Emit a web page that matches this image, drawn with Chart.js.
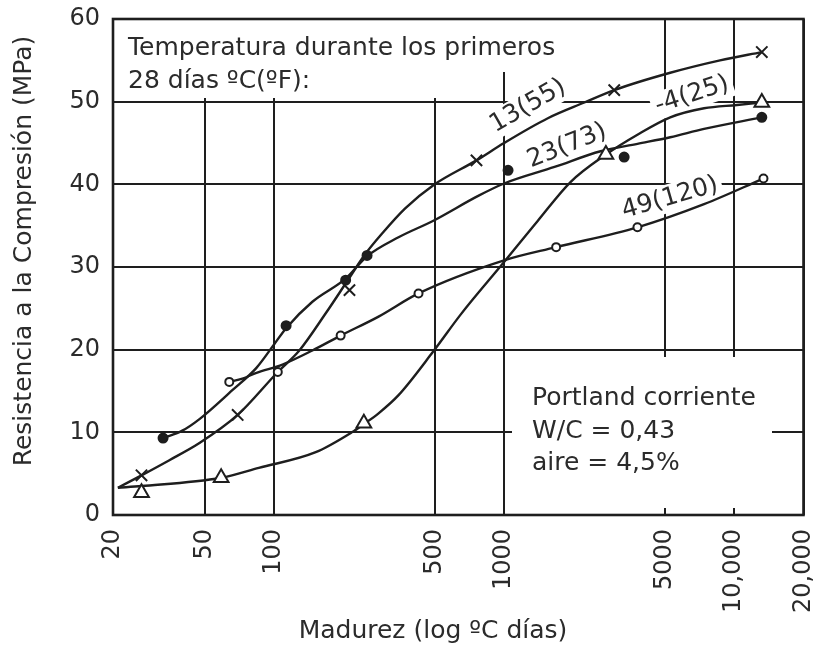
<!DOCTYPE html>
<html><head><meta charset="utf-8">
<script src="https://cdn.jsdelivr.net/npm/chart.js@4/dist/chart.umd.min.js"></script>
<style>html,body{margin:0;padding:0;background:#fff}#wrap{width:814px;height:648px;position:relative}</style>
</head><body><div id="wrap"><canvas id="c" width="814" height="648"></canvas></div>
<script>
// ---- axis ticks ----
const xTickValues = [20, 50, 100, 500, 1000, 5000, 10000, 20000];
const xTickLabels = ['20', '50', '100', '500', '1000', '5000', '10,000', '20,000'];
const yTickValues = [0, 10, 20, 30, 40, 50, 60];

// ---- series labels ----
const seriesLabels = ['13(55)', '23(73)', '-4(25)', '49(120)'];

// ---- 13(55) : crosses ----
const curve13X = [21, 26.6, 35, 47.5, 69.6, 104, 129, 168, 205, 250, 294, 372, 493, 759, 1000, 1550, 2234, 3011, 5273, 8677, 13180];
const curve13Y = [3.3, 4.8, 6.6, 8.7, 12.1, 17.3, 19.9, 24.4, 28.0, 31.6, 34.0, 37.1, 39.9, 42.9, 45.0, 48.0, 49.9, 51.4, 53.5, 55.0, 56.0];
const marks13X = [26.6, 69.6, 213, 759, 3011, 13180];
const marks13Y = [4.8, 12.1, 27.2, 42.9, 51.4, 56.0];

// ---- 23(73) : filled dots ----
const curve23X = [33, 40, 47.5, 66, 84, 100, 113, 147, 205, 254, 348, 493, 772, 1000, 1657, 2627, 3798, 5273, 7396, 13180];
const curve23Y = [9.3, 10.2, 11.6, 15.1, 17.8, 20.6, 22.6, 25.8, 28.6, 31.3, 33.6, 35.6, 38.6, 40.1, 42.1, 44.0, 44.9, 45.7, 46.7, 48.1];
const marks23X = [33, 113, 205, 254, 1041, 3325, 13180];
const marks23Y = [9.3, 22.9, 28.4, 31.4, 41.7, 43.3, 48.1];

// ---- -4(25) : open triangles ----
const curveM4X = [21, 26.6, 59, 86, 152, 218, 246, 285, 348, 493, 650, 1000, 1403, 1949, 2770, 3798, 5273, 7396, 10275, 13180];
const curveM4Y = [3.3, 3.5, 4.5, 5.7, 7.6, 10.0, 11.0, 12.3, 14.5, 19.8, 24.3, 30.6, 35.6, 40.3, 43.6, 46.0, 48.1, 49.2, 49.6, 49.9];
const marksM4X = [26.6, 59, 246, 2770, 13180];
const marksM4Y = [2.7, 4.5, 11.1, 43.6, 49.9];

// ---- 49(120) : open circles ----
const curve49X = [64, 73, 84, 109, 147, 195, 285, 425, 1000, 1684, 3798, 7396, 13400];
const curve49Y = [16.1, 16.5, 17.2, 18.2, 19.9, 21.7, 24.0, 26.8, 30.8, 32.4, 34.8, 37.6, 40.7];
const marks49X = [64, 104, 195, 425, 1684, 3798, 13400];
const marks49Y = [16.1, 17.3, 21.7, 26.8, 32.4, 34.8, 40.7];

// ---- texts ----
const headerLines = ['Temperatura durante los primeros', '28 días ºC(ºF):'];
const noteLines = ['Portland corriente', 'W/C = 0,43', 'aire = 4,5%'];
const xTitle = 'Madurez (log ºC días)';
const yTitle = 'Resistencia a la Compresión (MPa)';

const FONT = '"DejaVu Sans", sans-serif';
const INK = '#1e1e1e';
const TXT = '#2b2b2b';

function pts(xs, ys) { return xs.map((x, i) => ({ x: x, y: ys[i] })); }

function curveDs(label, xs, ys) {
  return { label: label, data: pts(xs, ys), showLine: true, borderColor: INK, borderWidth: 2.4,
    pointRadius: 0, pointHoverRadius: 0, cubicInterpolationMode: 'monotone', fill: false, order: 2 };
}
function markDs(label, xs, ys, style, radius, fill) {
  return { label: label + ' puntos', data: pts(xs, ys), showLine: false, pointStyle: style,
    pointRadius: radius, pointHoverRadius: radius, pointBorderColor: INK, pointBackgroundColor: fill,
    pointBorderWidth: 2, order: 1 };
}

const datasets = [
  curveDs(seriesLabels[0], curve13X, curve13Y),
  curveDs(seriesLabels[1], curve23X, curve23Y),
  curveDs(seriesLabels[2], curveM4X, curveM4Y),
  curveDs(seriesLabels[3], curve49X, curve49Y),
  markDs(seriesLabels[0], marks13X, marks13Y, 'crossRot', 8, INK),
  markDs(seriesLabels[1], marks23X, marks23Y, 'circle', 4.5, INK),
  markDs(seriesLabels[2], marksM4X, marksM4Y, 'triangle', 8.5, '#fff'),
  markDs(seriesLabels[3], marks49X, marks49Y, 'circle', 4, '#fff')
];

// label placement (pixels, angle deg)
const curveLabelPos = [
  { x: 528, y: 106, a: -30 },
  { x: 567, y: 146, a: -22 },
  { x: 692, y: 95, a: -18 },
  { x: 670, y: 198, a: -16 }
];

const overlay = {
  id: 'overlay',
  beforeDatasetsDraw(chart) {
    const ctx = chart.ctx;
    ctx.save();
    ctx.fillStyle = '#fff';
    // header area (grid hidden)
    ctx.fillRect(115, 20, 447, 52);
    ctx.fillRect(115, 72, 388, 26);
    // note area
    ctx.fillRect(512, 357, 260, 151);
    // label boxes
    ctx.font = '25px ' + FONT;
    curveLabelPos.forEach((p, i) => {
      ctx.save();
      ctx.translate(p.x, p.y);
      ctx.rotate(p.a * Math.PI / 180);
      const w = ctx.measureText(seriesLabels[i]).width;
      ctx.fillRect(-w / 2 - 4, -14, w + 8, 28);
      ctx.restore();
    });
    ctx.restore();
  },
  afterDatasetsDraw(chart) {
    const ctx = chart.ctx;
    const a = chart.chartArea;
    ctx.save();
    ctx.fillStyle = TXT;
    ctx.textBaseline = 'alphabetic';
    ctx.textAlign = 'left';
    ctx.font = '25px ' + FONT;
    headerLines.forEach((t, i) => ctx.fillText(t, 128, 55 + i * 33));
    noteLines.forEach((t, i) => ctx.fillText(t, 532, 405 + i * 32.5));
    // curve labels
    ctx.textAlign = 'center';
    ctx.textBaseline = 'middle';
    curveLabelPos.forEach((p, i) => {
      ctx.save();
      ctx.translate(p.x, p.y);
      ctx.rotate(p.a * Math.PI / 180);
      ctx.fillText(seriesLabels[i], 0, 0);
      ctx.restore();
    });
    // axis titles
    ctx.fillText(xTitle, 433, 631);
    ctx.save();
    ctx.translate(24, 251);
    ctx.rotate(-Math.PI / 2);
    ctx.fillText(yTitle, 0, 0);
    ctx.restore();
    // frame
    ctx.strokeStyle = INK;
    ctx.lineWidth = 2.6;
    ctx.strokeRect(a.left, a.top, a.right - a.left, a.bottom - a.top);
    ctx.restore();
  }
};

function noPad(s) { s.paddingLeft = 0; s.paddingRight = 0; s.paddingTop = 0; s.paddingBottom = 0; }

new Chart(document.getElementById('c'), {
  type: 'scatter',
  data: { datasets: datasets },
  options: {
    responsive: false,
    devicePixelRatio: 1,
    animation: false,
    events: [],
    layout: { padding: { top: 19, right: 7, left: 0, bottom: 0 } },
    plugins: { legend: { display: false }, tooltip: { enabled: false } },
    scales: {
      x: {
        type: 'logarithmic', min: 20, max: 20000,
        afterBuildTicks: (s) => { s.ticks = xTickValues.map(v => ({ value: v })); },
        afterFit: (s) => { s.height = 133; noPad(s); },
        ticks: {
          autoSkip: false, minRotation: 90, maxRotation: 90, padding: 14,
          color: TXT, font: { family: FONT, size: 24 },
          callback: (v, i) => xTickLabels[i]
        },
        grid: { color: INK, lineWidth: 2, drawTicks: false },
        border: { display: false },
        title: { display: false }
      },
      y: {
        min: 0, max: 60,
        afterBuildTicks: (s) => { s.ticks = yTickValues.map(v => ({ value: v })); },
        afterFit: (s) => { s.width = 113; noPad(s); },
        ticks: { padding: 13, color: TXT, font: { family: FONT, size: 24 } },
        grid: { color: INK, lineWidth: 2, drawTicks: false },
        border: { display: false },
        title: { display: false }
      }
    }
  },
  plugins: [overlay]
});
</script>
</body></html>
